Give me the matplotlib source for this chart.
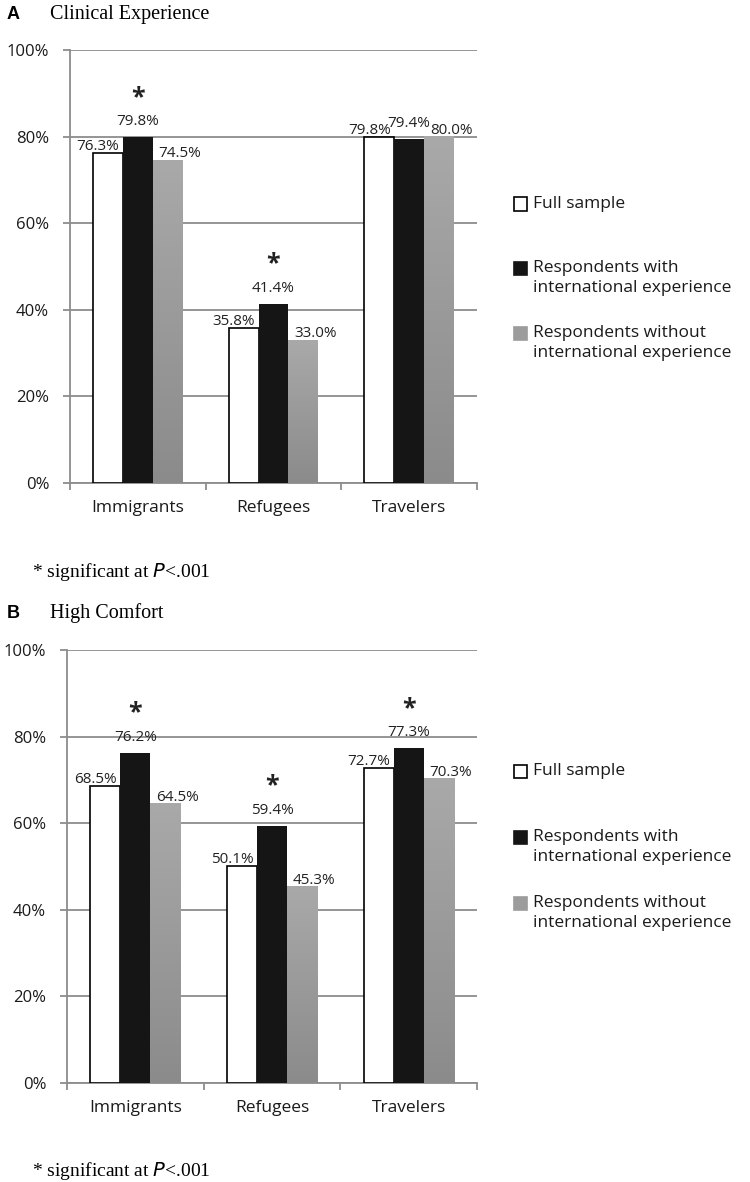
import matplotlib
matplotlib.use("Agg")
import matplotlib.pyplot as plt
import numpy as np
from matplotlib.colors import LinearSegmentedColormap
from matplotlib.patches import Rectangle
from matplotlib.ticker import FuncFormatter

categories = ["Immigrants", "Refugees", "Travelers"]
series_labels = ["Full sample",
                 "Respondents with\ninternational experience",
                 "Respondents without\ninternational experience"]

clinical_full = [76.3, 35.8, 79.8]
clinical_with = [79.8, 41.4, 79.4]
clinical_without = [74.5, 33.0, 80.0]
clinical_sig = [True, True, False]

comfort_full = [68.5, 50.1, 72.7]
comfort_with = [76.2, 59.4, 77.3]
comfort_without = [64.5, 45.3, 70.3]
comfort_sig = [True, True, True]

y_ticks = [0, 20, 40, 60, 80, 100]

GRID = "#8c8c8c"
TXT = "#1a1a1a"
SANS = ["Open Sans", "DejaVu Sans"]
SERIF = ["Liberation Serif", "DejaVu Serif"]

W, H, DPI = 750, 1182, 100
PX = 72.0 / DPI  # points per pixel


def fx(px):
    return px / W


def fy(px):
    return 1 - px / H


def draw_panel(fig, rect, full, with_, without, sig):
    ax = fig.add_axes(rect)
    x = np.arange(len(categories))
    bw = 0.22
    ax.set_axisbelow(True)
    b_full = ax.bar(x - bw, full, bw, facecolor="white", edgecolor="black", linewidth=1.2, zorder=3)
    b_with = ax.bar(x, with_, bw, facecolor="#151515", linewidth=0, zorder=3)
    b_without = ax.bar(x + bw, without, bw, facecolor="#9c9c9c", linewidth=0, zorder=3)

    # vertical gradient on the grey bars
    grad = np.linspace(0, 1, 256).reshape(-1, 1)
    cmap = LinearSegmentedColormap.from_list("g", ["#8b8b8b", "#a9a9a9"])
    for p in b_without:
        ax.imshow(grad, cmap=cmap, origin="lower", aspect="auto", zorder=3.5,
                  extent=[p.get_x(), p.get_x() + p.get_width(), 0, p.get_height()])

    ax.set_xlim(-0.5, len(categories) - 0.5)
    ax.set_ylim(0, 100)
    ax.set_yticks(y_ticks)
    ax.yaxis.set_major_formatter(FuncFormatter(lambda v, _: f"{v:.0f}%"))
    ax.grid(axis="y", color=GRID, linewidth=1.3, zorder=0)
    ax.set_xticks(x)
    ax.set_xticklabels(categories, fontsize=12.5, family=SANS, color=TXT)
    ax.set_xticks(np.arange(-0.5, len(categories)), minor=True)
    ax.tick_params(axis="x", which="major", length=0, pad=12)
    ax.tick_params(axis="x", which="minor", length=5, width=1.3, color=GRID, direction="out")
    ax.tick_params(axis="y", length=5, width=1.3, color=GRID, pad=10, labelsize=12)
    for lbl in ax.get_yticklabels():
        lbl.set_family(SANS)
        lbl.set_color(TXT)
    for s in ["top", "right"]:
        ax.spines[s].set_visible(False)
    for s in ["left", "bottom"]:
        ax.spines[s].set_color(GRID)
        ax.spines[s].set_linewidth(1.3)

    # value labels
    offsets = [(-10, 3), (0, 12), (12, 3)]
    for bars, vals, (dx, dy) in zip([b_full, b_with, b_without], [full, with_, without], offsets):
        for p, v in zip(bars, vals):
            ax.annotate(f"{v:.1f}%", (p.get_x() + p.get_width() / 2, v),
                        xytext=(dx * PX, dy * PX), textcoords="offset points",
                        ha="center", va="baseline", fontsize=11, family=SANS,
                        color="#222222", zorder=5)
    for p, v, s in zip(b_with, with_, sig):
        if s:
            ax.annotate("*", (p.get_x() + p.get_width() / 2, v),
                        xytext=(0, 40 * PX), textcoords="offset points",
                        ha="center", va="center", fontsize=18, family=SANS,
                        fontweight="bold", color="#222222", zorder=5)
    return ax


def draw_legend(fig, ys):
    kinds = [("white", "black"), ("#151515", "#151515"), ("#9c9c9c", "#9c9c9c")]
    for (fc, ec), lab, y in zip(kinds, series_labels, ys):
        sq = 13
        fig.patches.append(Rectangle((fx(514), fy(y + sq / 2)), sq / W, sq / H,
                                     transform=fig.transFigure, facecolor=fc,
                                     edgecolor=ec, linewidth=1.2))
        first, *rest = lab.split("\n")
        fig.text(fx(533), fy(y), first, ha="left", va="center",
                 fontsize=12.5, family=SANS, color=TXT)
        for i, line in enumerate(rest, 1):
            fig.text(fx(533), fy(y + 20 * i), line, ha="left", va="center",
                     fontsize=12.5, family=SANS, color=TXT)


fig = plt.figure(figsize=(W / DPI, H / DPI), dpi=DPI)

# panel A
fig.text(fx(7), fy(19), "A", fontsize=13, fontweight="bold", family=["Liberation Sans", "DejaVu Sans"], va="baseline")
fig.text(fx(50), fy(19), "Clinical Experience", fontsize=14.5, family=SERIF, va="baseline")
draw_panel(fig, [fx(70), fy(483), fx(477 - 70), (483 - 50) / H],
           clinical_full, clinical_with, clinical_without, clinical_sig)
draw_legend(fig, [204, 268, 333])
fig.text(fx(32), fy(577), "* significant at $\\mathit{P}$<.001", fontsize=14, family=SERIF, va="baseline")

# panel B
fig.text(fx(7), fy(618), "B", fontsize=13, fontweight="bold", family=["Liberation Sans", "DejaVu Sans"], va="baseline")
fig.text(fx(50), fy(618), "High Comfort", fontsize=14.5, family=SERIF, va="baseline")
draw_panel(fig, [fx(67), fy(1083), fx(477 - 67), (1083 - 650) / H],
           comfort_full, comfort_with, comfort_without, comfort_sig)
draw_legend(fig, [771, 837, 903])
fig.text(fx(32), fy(1176), "* significant at $\\mathit{P}$<.001", fontsize=14, family=SERIF, va="baseline")

fig.savefig("out.png", dpi=DPI)
